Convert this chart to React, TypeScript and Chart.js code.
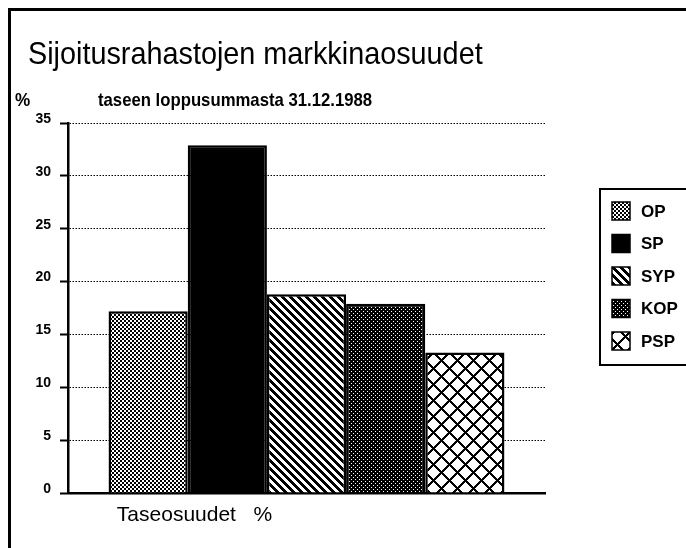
import React, { useEffect, useRef } from 'react';
import { Chart, registerables } from 'chart.js';

Chart.register(...registerables);

const FONT = '"Liberation Sans", Arial, Helvetica, sans-serif';

const categories = ['Taseosuudet   %'];
const seriesNames = ['OP', 'SP', 'SYP', 'KOP', 'PSP'];
const opValues = [17.2];
const spValues = [32.9];
const sypValues = [18.8];
const kopValues = [17.9];
const pspValues = [13.3];
const yMin = 0;
const yMax = 35;
const yStep = 5;
const titleText = 'Sijoitusrahastojen markkinaosuudet';
const subtitleText = 'taseen loppusummasta 31.12.1988';
const yUnitText = '%';

function makePattern(kind: string): CanvasPattern | string {
  const c = document.createElement('canvas');
  const size = kind === 'cross' ? 16 : kind === 'diag' ? 8 : 4;
  c.width = size;
  c.height = size;
  const g = c.getContext('2d');
  if (!g) return '#888';
  g.fillStyle = '#fff';
  g.fillRect(0, 0, size, size);
  g.fillStyle = '#000';
  for (let y = 0; y < size; y++) {
    for (let x = 0; x < size; x++) {
      let black = false;
      if (kind === 'checker') {
        black = (Math.floor(x / 2) + Math.floor(y / 2)) % 2 === 0;
      } else if (kind === 'dark') {
        black = !((x === 1 && y === 1) || (x === 3 && y === 3));
      } else if (kind === 'diag') {
        black = (((x - y) % 8) + 8) % 8 < 4;
      } else if (kind === 'cross') {
        black = ((x + y) % 16) < 3 || ((((x - y) % 16) + 16) % 16) < 3;
      }
      if (black) g.fillRect(x, y, 1, 1);
    }
  }
  return g.createPattern(c, 'repeat') || '#888';
}

function drawScaledText(ctx: CanvasRenderingContext2D, text: string, x: number, y: number, sx: number) {
  ctx.save();
  ctx.translate(x, y);
  ctx.scale(sx, 1);
  ctx.fillText(text, 0, 0);
  ctx.restore();
}

export default function App() {
  const ref = useRef<HTMLCanvasElement | null>(null);

  useEffect(() => {
    const canvas = ref.current;
    if (!canvas) return;
    const fills = [
      makePattern('checker'),
      '#000',
      makePattern('diag'),
      makePattern('dark'),
      makePattern('cross'),
    ];
    const values = [opValues, spValues, sypValues, kopValues, pspValues];

    const decor = {
      id: 'decor',
      afterDraw(chart: any) {
        const ctx = chart.ctx as CanvasRenderingContext2D;
        ctx.save();
        ctx.fillStyle = '#000';
        ctx.textBaseline = 'alphabetic';
        ctx.textAlign = 'left';
        ctx.font = `32px ${FONT}`;
        drawScaledText(ctx, titleText, 28, 64, 0.9);
        ctx.font = `bold 19px ${FONT}`;
        drawScaledText(ctx, yUnitText, 15, 106, 0.9);
        drawScaledText(ctx, subtitleText, 98, 106, 0.88);

        // legend
        const bx = 600;
        const by = 189;
        ctx.lineWidth = 2;
        ctx.strokeStyle = '#000';
        ctx.strokeRect(bx, by, 110, 176);
        const ds = chart.data.datasets;
        ctx.font = `bold 17px ${FONT}`;
        ctx.textBaseline = 'middle';
        for (let i = 0; i < ds.length; i++) {
          const cy = 211 + i * 32.5;
          ctx.fillStyle = ds[i].backgroundColor;
          ctx.fillRect(612, cy - 9, 18, 18);
          ctx.lineWidth = 1.5;
          ctx.strokeRect(612, cy - 9, 18, 18);
          ctx.fillStyle = '#000';
          ctx.fillText(ds[i].label, 641, cy + 1);
        }
        ctx.restore();
      },
    };

    const chart = new Chart(canvas, {
      type: 'bar',
      data: {
        labels: categories,
        datasets: seriesNames.map((name, i) => ({
          label: name,
          data: values[i],
          backgroundColor: fills[i] as any,
          borderColor: '#000',
          borderWidth: 2.5,
          categoryPercentage: 0.83,
          barPercentage: 1,
        })),
      },
      options: {
        responsive: false,
        animation: false,
        layout: { padding: { left: 20, right: 141, top: 123, bottom: 0 } },
        plugins: {
          legend: { display: false },
          title: { display: false },
          tooltip: { enabled: false },
        },
        scales: {
          x: {
            grid: { display: false, drawTicks: false },
            border: { display: true, color: '#000', width: 2.5 },
            ticks: {
              color: '#000',
              font: { family: FONT, size: 21 },
              padding: 10,
              labelOffset: -112,
            },
            afterFit: (s: any) => {
              s.height = 55;
            },
          },
          y: {
            min: yMin,
            max: yMax,
            ticks: {
              stepSize: yStep,
              color: '#000',
              font: { family: FONT, size: 14, weight: 'bold' },
              padding: 9,
              labelOffset: -4,
            },
            grid: {
              color: '#000',
              lineWidth: 1,
              tickLength: 8,
              tickWidth: 2,
              tickColor: '#000',
              tickBorderDash: [],
            },
            border: { display: true, color: '#000', width: 2.5, dash: [1.5, 1.5] },
            afterFit: (s: any) => {
              s.width = 48;
            },
          },
        },
      },
      plugins: [decor],
    });
    return () => chart.destroy();
  }, []);

  return (
    <div style={{ position: 'absolute', left: 0, top: 0, width: 686, height: 548, background: '#fff' }}>
      <div
        style={{
          position: 'absolute',
          left: 8,
          top: 8,
          width: 686,
          height: 548,
          borderLeft: '3px solid #000',
          borderTop: '3px solid #000',
        }}
      />
      <canvas ref={ref} width={686} height={548} style={{ position: 'absolute', left: 0, top: 0 }} />
    </div>
  );
}
